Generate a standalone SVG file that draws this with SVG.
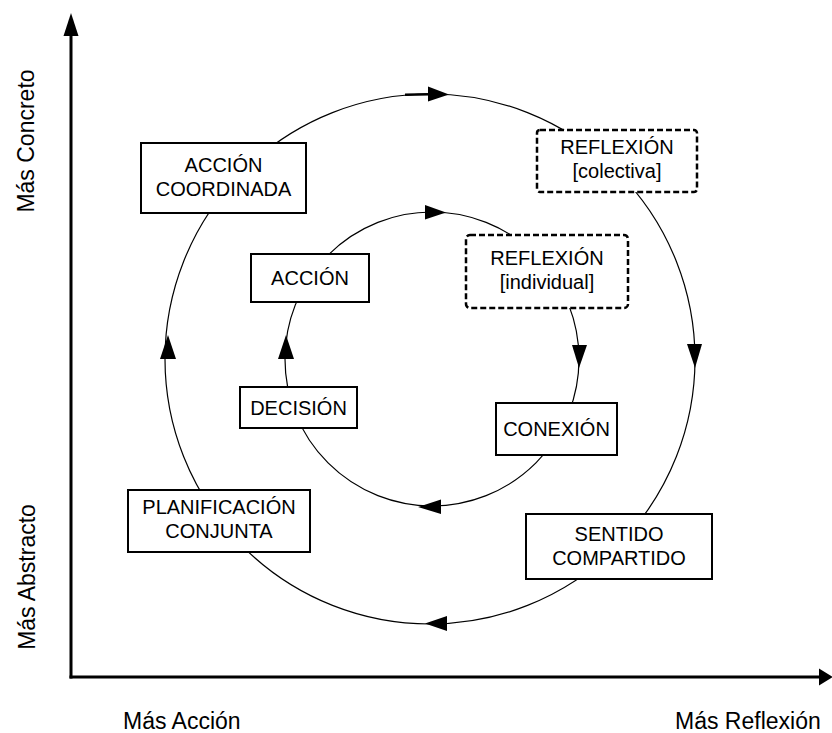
<svg xmlns="http://www.w3.org/2000/svg" width="832" height="733" viewBox="0 0 832 733">
<style>
.box{fill:#fff;stroke:#000;stroke-width:2}
.dash{fill:#fff;stroke:#000;stroke-width:2.5;stroke-dasharray:6,3}
.t{font-family:"Liberation Sans",Arial,sans-serif;font-size:20px;fill:#000;text-anchor:middle}
.ax{font-family:"Liberation Sans",Arial,sans-serif;font-size:23px;fill:#000}
.ring{fill:none;stroke:#000;stroke-width:1.2}
.head{fill:#000}
</style>
<rect width="832" height="733" fill="#fff"/>
<g id="connectors">
<circle class="ring" cx="430" cy="359" r="265"/>
<circle class="ring" cx="432" cy="359" r="147"/>
<path d="M405,94.8 L430,94.2" stroke="#000" stroke-width="2.5" fill="none"/>
<polygon class="head" points="428,86.5 449,94.5 428,101.5"/>
<polygon class="head" points="687,344 702,344 695,368"/>
<polygon class="head" points="447,616 447,631 425,623.5"/>
<polygon class="head" points="160,359 176,359 168,335"/>
<polygon class="head" points="425,205 446,212.5 425,219.5"/>
<polygon class="head" points="572,345 587,345 579,368"/>
<polygon class="head" points="441,499.5 441,514 418,507"/>
<polygon class="head" points="278,359 294,359 286,335"/>
</g>
<g id="axes">
<line x1="71" y1="30" x2="71" y2="678.5" stroke="#000" stroke-width="3"/>
<line x1="69.5" y1="677" x2="822" y2="677" stroke="#000" stroke-width="3"/>
<polygon class="head" points="63.5,36 78.5,36 71,13"/>
<polygon class="head" points="819,668.5 819,685.5 833,677"/>
<text class="ax" transform="translate(34,141) rotate(-90)" text-anchor="middle">Más Concreto</text>
<text class="ax" transform="translate(35,577) rotate(-90)" text-anchor="middle">Más Abstracto</text>
<text class="ax" x="123" y="729">Más Acción</text>
<text class="ax" x="675" y="729">Más Reflexión</text>
</g>
<g id="accion-coordinada">
<rect class="box" x="141" y="143" width="165" height="70"/>
<text class="t" x="223.5" y="172">ACCIÓN</text>
<text class="t" x="223.5" y="196">COORDINADA</text>
</g>
<g id="reflexion-colectiva">
<rect class="dash" x="537" y="130" width="160" height="62" rx="3"/>
<text class="t" x="617" y="154">REFLEXIÓN</text>
<text class="t" x="617" y="178">[colectiva]</text>
</g>
<g id="accion">
<rect class="box" x="251" y="254" width="118" height="48"/>
<text class="t" x="310" y="285">ACCIÓN</text>
</g>
<g id="reflexion-individual">
<rect class="dash" x="466" y="235" width="162" height="73" rx="4"/>
<text class="t" x="547" y="265">REFLEXIÓN</text>
<text class="t" x="547" y="289">[individual]</text>
</g>
<g id="decision">
<rect class="box" x="240" y="387" width="117" height="41"/>
<text class="t" x="298.5" y="415">DECISIÓN</text>
</g>
<g id="conexion">
<rect class="box" x="496" y="403" width="121" height="52"/>
<text class="t" x="556.5" y="436">CONEXIÓN</text>
</g>
<g id="planificacion-conjunta">
<rect class="box" x="128" y="490" width="182" height="62"/>
<text class="t" x="219" y="514">PLANIFICACIÓN</text>
<text class="t" x="219" y="538">CONJUNTA</text>
</g>
<g id="sentido-compartido">
<rect class="box" x="526" y="514" width="186" height="65"/>
<text class="t" x="619" y="541">SENTIDO</text>
<text class="t" x="619" y="565">COMPARTIDO</text>
</g>
</svg>
